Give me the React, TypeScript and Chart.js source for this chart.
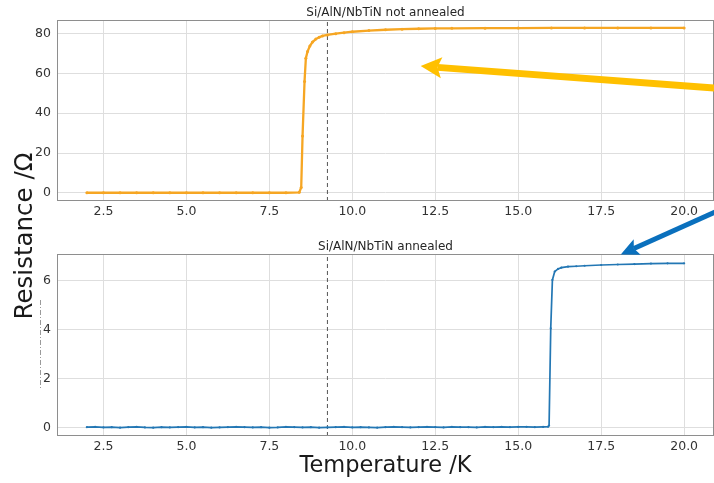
import React, { useEffect, useRef } from "react";
import { Chart, registerables } from "chart.js";

Chart.register(...registerables);

// ---------------- data ----------------
const TOP_TITLE = "Si/AlN/NbTiN not annealed";
const BOTTOM_TITLE = "Si/AlN/NbTiN annealed";
const X_TITLE = "Temperature /K";
const Y_TITLE = "Resistance /Ω";

const topTemps = [
  2.0, 2.5, 3.0, 3.5, 4.0, 4.5, 5.0, 5.5, 6.0, 6.5, 7.0, 7.5, 8.0,
  8.4, 8.46, 8.5, 8.56, 8.6, 8.65, 8.72, 8.8, 8.9, 9.0, 9.1, 9.25, 9.5, 9.75,
  10.0, 10.5, 11.0, 11.5, 12.0, 12.5, 13.0, 14.0, 15.0, 16.0, 17.0, 18.0, 19.0, 20.0,
];
const topRes = [
  0, 0, 0, 0, 0, 0, 0, 0, 0, 0, 0, 0, 0,
  0.2, 2.7, 28.5, 56, 67.7, 71, 73.8, 75.8, 77.3, 78.2, 78.9, 79.4, 80.0, 80.5,
  81.0, 81.6, 82.0, 82.3, 82.5, 82.65, 82.7, 82.8, 82.85, 82.9, 82.9, 82.9, 82.9, 82.9,
];

const botTemps = [
  2.0, 2.25, 2.5, 2.75, 3.0, 3.25, 3.5, 3.75, 4.0, 4.25,
  4.5, 4.75, 5.0, 5.25, 5.5, 5.75, 6.0, 6.25, 6.5, 6.75,
  7.0, 7.25, 7.5, 7.75, 8.0, 8.25, 8.5, 8.75, 9.0, 9.25,
  9.5, 9.75, 10.0, 10.25, 10.5, 10.75, 11.0, 11.25, 11.5, 11.75,
  12.0, 12.25, 12.5, 12.75, 13.0, 13.25, 13.5, 13.75, 14.0, 14.25,
  14.5, 14.75, 15.0, 15.25, 15.5, 15.75, 15.9,
  15.93, 15.98, 16.03, 16.1, 16.2, 16.3, 16.5, 16.75, 17.0, 17.5,
  18.0, 18.5, 19.0, 19.5, 20.0,
];
const botRes = [
  0.01, 0.02, 0.0, 0.01, -0.01, 0.01, 0.02, 0.0, -0.01, 0.01,
  0.0, 0.01, 0.02, 0.0, 0.01, -0.01, 0.0, 0.01, 0.02, 0.01,
  0.0, 0.01, -0.01, 0.0, 0.02, 0.01, 0.0, 0.01, -0.01, 0.0,
  0.01, 0.02, 0.0, 0.01, 0.0, -0.01, 0.01, 0.02, 0.01, 0.0,
  0.01, 0.02, 0.01, 0.0, 0.02, 0.01, 0.01, 0.0, 0.02, 0.01,
  0.02, 0.01, 0.02, 0.02, 0.01, 0.02, 0.03,
  0.08, 4.05, 6.03, 6.37, 6.48, 6.53, 6.57, 6.59, 6.61, 6.64,
  6.66, 6.68, 6.7, 6.71, 6.71,
];

const TC_MARK = 9.25; // dashed vertical marker (K)

const xRange = [1.1, 20.9];
const xTicks = [2.5, 5.0, 7.5, 10.0, 12.5, 15.0, 17.5, 20.0];
const topYRange = [-4.14, 86.9];
const topYTicks = [0, 20, 40, 60, 80];
const botYRange = [-0.35, 7.09];
const botYTicks = [0, 2, 4, 6];

// arrows, in each panel's data units: [fromX, fromY, toX, toY]
const topArrow = [21.0, 52.6, 12.06, 63.7];
const botArrow = [21.0, 8.85, 18.09, 7.07];

// ---------------- styles ----------------
const W = 714;
const H = 483;
const CW = 718; // canvas slightly wider so the plot frame reaches the right edge
const FONT = '"DejaVu Sans", "Liberation Sans", sans-serif';
const ORANGE = "#f6a623";
const BLUE = "#2377b4";
const GOLD = "#ffc000";
const ARROW_BLUE = "#0a70bd";
const GRID = "#dedede";
const FRAME = "#8e8e8e";
const TEXT = "#333333";

function drawArrow(ctx: CanvasRenderingContext2D, x1: number, y1: number, x2: number, y2: number,
  color: string, shaftW: number, headL: number, headW: number) {
  const ang = Math.atan2(y2 - y1, x2 - x1);
  const c = Math.cos(ang), s = Math.sin(ang);
  const bx = x2 - headL * c, by = y2 - headL * s;
  const nx = x2 - headL * 0.8 * c, ny = y2 - headL * 0.8 * s;
  ctx.strokeStyle = color;
  ctx.lineWidth = shaftW;
  ctx.lineCap = "butt";
  ctx.beginPath();
  ctx.moveTo(x1, y1);
  ctx.lineTo(nx, ny);
  ctx.stroke();
  ctx.fillStyle = color;
  ctx.beginPath();
  ctx.moveTo(x2, y2);
  ctx.lineTo(bx - (headW / 2) * s, by + (headW / 2) * c);
  ctx.lineTo(nx, ny);
  ctx.lineTo(bx + (headW / 2) * s, by - (headW / 2) * c);
  ctx.closePath();
  ctx.fill();
}

const panelPlugin = {
  id: "panelDeco",
  afterDraw(chart: any, _args: any, opts: any) {
    const { ctx, chartArea: a, scales } = chart;
    ctx.save();
    // frame
    ctx.strokeStyle = FRAME;
    ctx.lineWidth = 1;
    ctx.strokeRect(a.left + 0.5, a.top + 0.5, a.right - a.left - 1, a.bottom - a.top - 1);
    // panel title
    ctx.fillStyle = "#262626";
    ctx.font = `12px ${FONT}`;
    ctx.textAlign = "center";
    ctx.textBaseline = "alphabetic";
    ctx.fillText(opts.title, (a.left + a.right) / 2, a.top - 4);
    // arrow
    if (opts.arrow) {
      const [fx, fy, tx, ty] = opts.arrow;
      drawArrow(
        ctx,
        scales.x.getPixelForValue(fx), scales.y.getPixelForValue(fy),
        scales.x.getPixelForValue(tx), scales.y.getPixelForValue(ty),
        opts.arrowColor, opts.arrowShaft, opts.arrowHeadL, opts.arrowHeadW
      );
    }
    // shared y title
    if (opts.yTitle) {
      ctx.save();
      ctx.translate(opts.yTitleX, opts.yTitleY);
      ctx.rotate(-Math.PI / 2);
      ctx.fillStyle = "#1a1a1a";
      ctx.font = `24.5px ${FONT}`;
      ctx.textAlign = "center";
      ctx.textBaseline = "alphabetic";
      ctx.fillText(opts.yTitle, 0, 0);
      ctx.restore();
      // faint dash-dot stroke left of the lower axis
      ctx.strokeStyle = "#9a9a9a";
      ctx.lineWidth = 1;
      ctx.setLineDash([5, 2, 1, 2]);
      ctx.beginPath();
      ctx.moveTo(40.5, 300);
      ctx.lineTo(40.5, 390);
      ctx.stroke();
      ctx.setLineDash([]);
    }
    ctx.restore();
  },
};

function buildConfig(p: any): any {
  const tickFont = { family: FONT, size: 12.5 };
  return {
    type: "line",
    data: {
      datasets: [
        {
          data: p.temps.map((t: number, i: number) => ({ x: t, y: p.res[i] })),
          borderColor: p.color,
          borderWidth: p.lineW,
          pointRadius: p.ptR,
          pointBackgroundColor: p.color,
          pointBorderWidth: 0,
          tension: 0,
        },
        {
          data: [
            { x: TC_MARK, y: p.yRange[0] },
            { x: TC_MARK, y: p.yRange[1] },
          ],
          borderColor: "#555555",
          borderWidth: 1,
          borderDash: [4, 3],
          pointRadius: 0,
        },
      ],
    },
    options: {
      animation: false,
      responsive: false,
      devicePixelRatio: 1,
      layout: { padding: { left: 0, right: 0, top: p.padTop, bottom: p.padBottom } },
      plugins: {
        legend: { display: false },
        tooltip: { enabled: false },
        panelDeco: p.deco,
      },
      scales: {
        x: {
          type: "linear",
          min: xRange[0],
          max: xRange[1],
          afterBuildTicks: (s: any) => {
            s.ticks = xTicks.map((v) => ({ value: v }));
          },
          afterFit: (s: any) => {
            s.height = p.xAxisH;
          },
          ticks: {
            autoSkip: false,
            maxRotation: 0,
            padding: 3,
            color: TEXT,
            font: tickFont,
            callback: (v: any) => Number(v).toFixed(1),
          },
          grid: { color: GRID, drawTicks: false },
          border: { display: false },
          title: p.xTitle
            ? {
                display: true,
                text: p.xTitle,
                color: "#1a1a1a",
                font: { family: FONT, size: 22.5 },
                padding: { top: 2, bottom: 3 },
              }
            : { display: false },
        },
        y: {
          type: "linear",
          min: p.yRange[0],
          max: p.yRange[1],
          afterBuildTicks: (s: any) => {
            s.ticks = p.yTicks.map((v: number) => ({ value: v }));
          },
          afterFit: (s: any) => {
            s.width = 57;
          },
          ticks: {
            padding: 6,
            color: TEXT,
            font: tickFont,
            callback: (v: any) => String(v),
          },
          grid: { color: GRID, drawTicks: false },
          border: { display: false },
        },
      },
    },
    plugins: [panelPlugin],
  };
}

export default function App() {
  const topRef = useRef<HTMLCanvasElement | null>(null);
  const botRef = useRef<HTMLCanvasElement | null>(null);

  useEffect(() => {
    document.body.style.margin = "0";
    const top = new Chart(
      topRef.current as HTMLCanvasElement,
      buildConfig({
        temps: topTemps,
        res: topRes,
        color: ORANGE,
        lineW: 2.3,
        ptR: 1.5,
        yRange: topYRange,
        yTicks: topYTicks,
        padTop: 20,
        padBottom: H - 228,
        xAxisH: 27,
        xTitle: null,
        deco: {
          title: TOP_TITLE,
          arrow: topArrow,
          arrowColor: GOLD,
          arrowShaft: 7,
          arrowHeadL: 21,
          arrowHeadW: 21,
        },
      })
    );
    const bot = new Chart(
      botRef.current as HTMLCanvasElement,
      buildConfig({
        temps: botTemps,
        res: botRes,
        color: BLUE,
        lineW: 1.7,
        ptR: 1.1,
        yRange: botYRange,
        yTicks: botYTicks,
        padTop: 254,
        padBottom: 0,
        xAxisH: 47,
        xTitle: X_TITLE,
        deco: {
          title: BOTTOM_TITLE,
          arrow: botArrow,
          arrowColor: ARROW_BLUE,
          arrowShaft: 5,
          arrowHeadL: 18,
          arrowHeadW: 17,
          yTitle: Y_TITLE,
          yTitleX: 32,
          yTitleY: 236,
        },
      })
    );
    return () => {
      top.destroy();
      bot.destroy();
    };
  }, []);

  const canvasStyle: React.CSSProperties = {
    position: "absolute",
    left: 0,
    top: 0,
    width: CW,
    height: H,
  };

  return (
    <div
      style={{
        position: "fixed",
        left: 0,
        top: 0,
        width: W,
        height: H,
        background: "#ffffff",
        overflow: "hidden",
      }}
    >
      <canvas ref={topRef} width={CW} height={H} style={canvasStyle} />
      <canvas ref={botRef} width={CW} height={H} style={canvasStyle} />
    </div>
  );
}
